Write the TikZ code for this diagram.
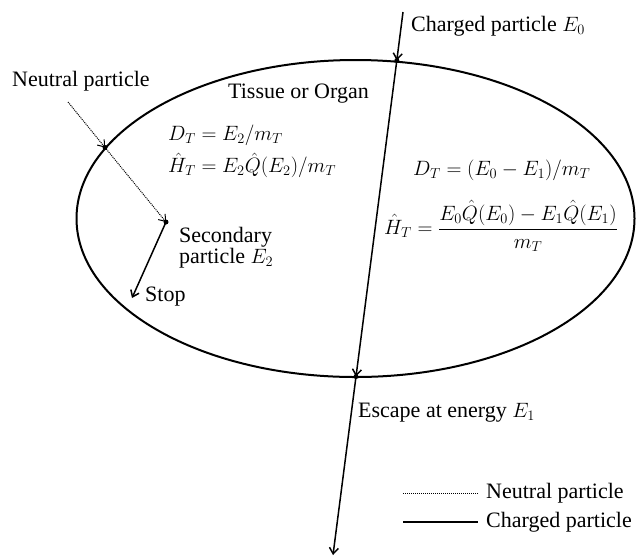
\documentclass[tikz,border=0pt]{standalone}
\usepackage{amsmath}
\usepackage{fontspec}
\setmainfont{Liberation Serif}
\usetikzlibrary{arrows.meta}
\tikzset{
  charged/.style={line width=1.5pt},
  neutral/.style={densely dotted, line width=1pt},
  organ/.style={line width=2pt},
  lbl/.style={anchor=west, inner sep=0pt},
  eqn/.style={lbl, font=\fontsize{21.5}{24}\selectfont},
}
\begin{document}
\begin{tikzpicture}[x=1pt, y=-1pt, >={Straight Barb[length=6pt,width=9pt]}, font=\fontsize{22}{19}\selectfont]
\useasboundingbox (0,0) rectangle (636,558);
\draw[organ] (355.5,218.5) ellipse [x radius=279, y radius=158.5];

\coordinate (ctop) at (403,12);
\coordinate (cin) at (396.8,60.5);
\coordinate (cout) at (356,376.5);
\coordinate (cend) at (333,555);
\coordinate (nstart) at (68,102);
\coordinate (ncross) at (105,147.5);
\coordinate (nend) at (166,222);
\coordinate (nstop) at (132,298);
\coordinate (lgn) at (403,493);
\coordinate (lgc) at (403,522);

\node[lbl] (neutral) at (12,81) {Neutral particle};
\node[lbl] (charged) at (411,26) {Charged particle $E_0$};
\node[lbl] (tissue) at (228,94) {Tissue or Organ};
\node[eqn] (dose2) at (168,135) {$D_T = E_2/m_T$};
\node[eqn] (heq2) at (168,165) {$\hat{H}_T = E_2\hat{Q}(E_2)/m_T$};
\node[eqn] (dose1) at (413,170) {$D_T = (E_0 - E_1)/m_T$};
\node[eqn] (heq1) at (384,226) {$\hat{H}_T = \dfrac{E_0\hat{Q}(E_0) - E_1\hat{Q}(E_1)}{m_T}$};
\node[lbl, align=left] (second) at (179,248) {Secondary\\particle $E_2$};
\node[lbl] (stop) at (145,297) {Stop};
\node[lbl] (escape) at (358,413) {Escape at energy $E_1$};
\node[lbl] (lgneutral) at (486,493) {Neutral particle};
\node[lbl] (lgcharged) at (486,522) {Charged particle};

\draw[charged,->] (ctop) -- (cin);
\draw[charged,->] (cin) -- (cout);
\draw[charged,->] (cout) -- (cend);
\draw[neutral,->] (nstart) -- (ncross);
\draw[neutral,->] (ncross) -- (nend);
\draw[charged,->] (nend) -- (nstop);
\fill (cin) circle (2.5pt);
\fill (cout) circle (2.5pt);
\fill (ncross) circle (2.5pt);
\fill (nend) circle (2.5pt);

\draw[neutral] (lgn) -- ([xshift=-8pt]lgneutral.west);
\draw[charged] (lgc) -- ([xshift=-8pt]lgcharged.west);
\end{tikzpicture}
\end{document}
